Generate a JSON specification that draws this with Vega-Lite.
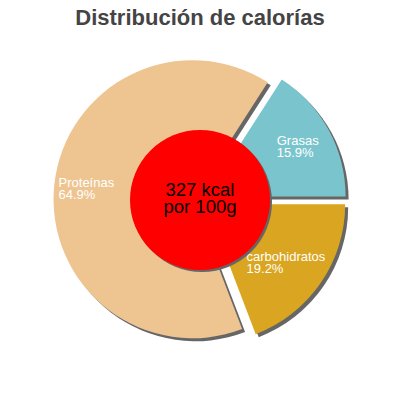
{
  "$schema": "https://vega.github.io/schema/vega-lite/v6.json",
  "width": 400,
  "height": 400,
  "padding": 0,
  "autosize": {"type": "none"},
  "background": "white",
  "title": {"text": "Distribución de calorías", "font": "Liberation Sans", "fontSize": 22, "fontWeight": "bold", "color": "#444444", "anchor": "middle", "frame": "group", "offset": -47, "baseline": "alphabetic"},
  "config": {"view": {"stroke": null}, "font": "Liberation Sans"},
  "data": {"values": [
    {"name": "Grasas", "value": 0.159},
    {"name": "carbohidratos", "value": 0.192},
    {"name": "Proteínas", "value": 0.649}
  ]},
  "layer": [
    {
      "mark": {"type": "arc", "radius": 139, "color": "#666666",
        "xOffset": {"expr": "3 + 7.5*sin(0.5718 + PI*(datum.value_start + datum.value_end))"},
        "yOffset": {"expr": "3 - 7.5*cos(0.5718 + PI*(datum.value_start + datum.value_end))"}},
      "encoding": {
        "theta": {"field": "value", "type": "quantitative", "stack": true, "scale": {"domain": [0, 1], "range": [0.5718, 6.8550]}},
        "order": {"field": "value", "type": "quantitative", "sort": "ascending"}
      }
    },
    {
      "mark": {"type": "arc", "radius": 139,
        "xOffset": {"expr": "7.5*sin(0.5718 + PI*(datum.value_start + datum.value_end))"},
        "yOffset": {"expr": "-7.5*cos(0.5718 + PI*(datum.value_start + datum.value_end))"}},
      "encoding": {
        "theta": {"field": "value", "type": "quantitative", "stack": true},
        "order": {"field": "value", "type": "quantitative", "sort": "ascending"},
        "color": {"field": "name", "type": "nominal", "legend": null,
          "scale": {"domain": ["Grasas", "carbohidratos", "Proteínas"], "range": ["#7AC5CD", "#DAA520", "#EEC591"]}}
      }
    },
    {
      "mark": {"type": "text", "radius": 111, "align": "left", "baseline": "alphabetic", "dy": -1.5, "fontSize": 13, "color": "white",
        "dx": {"expr": "-3.45*length(datum.name)"}},
      "encoding": {
        "theta": {"field": "value", "type": "quantitative", "stack": true},
        "order": {"field": "value", "type": "quantitative", "sort": "ascending"},
        "text": {"field": "name", "type": "nominal"}
      }
    },
    {
      "mark": {"type": "text", "radius": 111, "align": "left", "baseline": "alphabetic", "dy": 10.5, "fontSize": 13, "color": "white",
        "dx": {"expr": "-3.45*length(datum.name)"}},
      "encoding": {
        "theta": {"field": "value", "type": "quantitative", "stack": true},
        "order": {"field": "value", "type": "quantitative", "sort": "ascending"},
        "text": {"field": "value", "type": "quantitative", "format": ".1%"}
      }
    },
    {
      "data": {"values": [{"kcal": "327 kcal", "unit": "por 100g"}]},
      "layer": [
        {"mark": {"type": "arc", "radius": 70, "theta": 0, "theta2": 6.2832, "color": "#666666", "xOffset": 2, "yOffset": 2}, "encoding": {}},
        {"mark": {"type": "arc", "radius": 70, "theta": 0, "theta2": 6.2832, "color": "#FF0000"}, "encoding": {}},
        {"mark": {"type": "text", "fontSize": 18.5, "color": "black", "align": "center", "baseline": "alphabetic", "dy": -4},
          "encoding": {"text": {"field": "kcal", "type": "nominal"}}},
        {"mark": {"type": "text", "fontSize": 18.5, "color": "black", "align": "center", "baseline": "alphabetic", "dy": 13.3},
          "encoding": {"text": {"field": "unit", "type": "nominal"}}}
      ]
    }
  ]
}
